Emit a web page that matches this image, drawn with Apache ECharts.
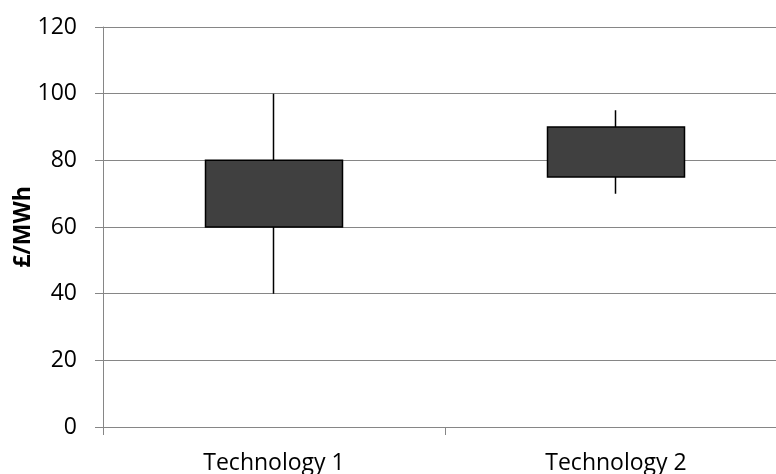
<!DOCTYPE html>
<html><head><meta charset="utf-8">
<script src="https://cdn.jsdelivr.net/npm/echarts@6/dist/echarts.min.js"></script>
<style>html,body{margin:0;padding:0;background:#fff}#c{width:776px;height:474px}</style>
</head><body><div id="c"></div>
<script>
const categories = ['Technology 1', 'Technology 2'];
const openVals = [60, 75];
const closeVals = [80, 90];
const lowVals = [40, 70];
const highVals = [100, 95];
const yTicks = [0, 20, 40, 60, 80, 100, 120];

const chart = echarts.init(document.getElementById('c'));
const font = '"Open Sans", "Liberation Sans", sans-serif';
chart.setOption({
  animation: false,
  grid: { left: 103, top: 27, right: -11, bottom: 47, outerBoundsMode: 'none', containLabel: false },
  xAxis: {
    type: 'category', data: categories, boundaryGap: true,
    axisLine: { lineStyle: { color: '#868686', width: 1 } },
    axisTick: { show: true, length: 8, alignWithLabel: false, lineStyle: { color: '#868686' } },
    axisLabel: { color: '#000', fontFamily: font, fontSize: 23, margin: 25 },
    splitLine: { show: false }
  },
  yAxis: {
    type: 'value', min: yTicks[0], max: yTicks[yTicks.length - 1], interval: 20,
    name: '£/MWh', nameLocation: 'middle', nameGap: 68, nameRotate: 90, nameMoveOverlap: false,
    nameTextStyle: { color: '#000', fontFamily: font, fontSize: 23, fontWeight: 'bold' },
    axisLine: { show: true, lineStyle: { color: '#868686', width: 1 } },
    axisTick: { show: true, length: 8, lineStyle: { color: '#868686' } },
    axisLabel: { color: '#000', fontFamily: font, fontSize: 23, margin: 26 },
    splitLine: { lineStyle: { color: '#868686', width: 1 } }
  },
  series: [{
    type: 'candlestick',
    barWidth: 137,
    data: categories.map((c, i) => [openVals[i], closeVals[i], lowVals[i], highVals[i]]),
    itemStyle: { color: '#404040', color0: '#404040', borderColor: '#000', borderColor0: '#000', borderWidth: 1.5 }
  }]
});
</script></body></html>
